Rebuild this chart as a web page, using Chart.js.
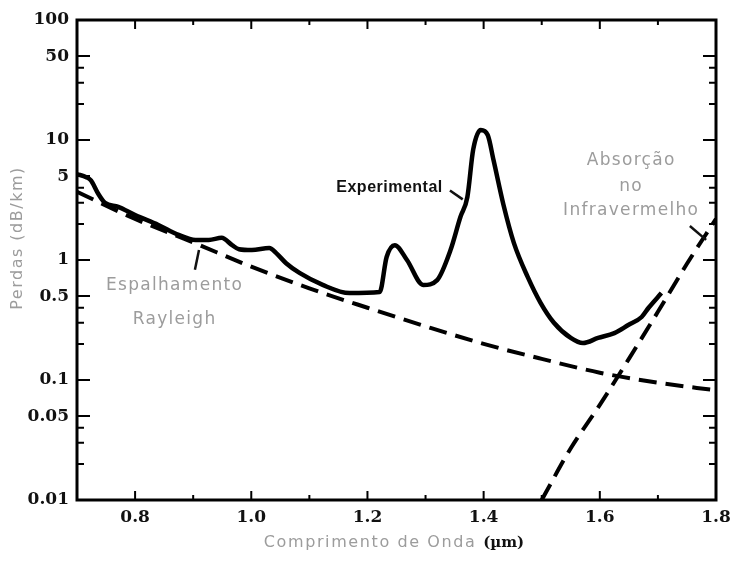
<!DOCTYPE html>
<html>
<head>
<meta charset="utf-8">
<script src="https://cdn.jsdelivr.net/npm/chart.js@4"></script>
<style>
  html, body { margin: 0; padding: 0; background: #fff; }
  #wrap { width: 741px; height: 562px; }
</style>
</head>
<body>
<div id="wrap"><canvas id="lossChart" width="741" height="562"></canvas></div>
<script>
// Perdas na fibra (dB/km) x comprimento de onda (um)
const expWavelength = [0.700, 0.716, 0.724, 0.736, 0.748, 0.771, 0.800, 0.840, 0.875, 0.904, 0.927, 0.949,
  0.967, 0.979, 1.001, 1.031, 1.043, 1.060, 1.083, 1.123, 1.169, 1.221, 1.233, 1.247, 1.268, 1.296, 1.320,
  1.343, 1.360, 1.372, 1.382, 1.395, 1.407, 1.417, 1.434, 1.452, 1.476, 1.498, 1.521, 1.550, 1.571, 1.597,
  1.625, 1.649, 1.672, 1.684, 1.706];
const expLoss = [5.2, 4.9, 4.6, 3.6, 3.0, 2.77, 2.37, 1.96, 1.62, 1.47, 1.47, 1.53,
  1.33, 1.23, 1.21, 1.26, 1.14, 0.94, 0.78, 0.62, 0.53, 0.54, 1.06, 1.33, 1.0, 0.62, 0.68,
  1.21, 2.28, 3.35, 8.3, 12.1, 11.0, 6.8, 2.9, 1.39, 0.72, 0.44, 0.30, 0.224, 0.203, 0.224,
  0.246, 0.287, 0.335, 0.40, 0.53];

const rayleighWavelength = [0.7, 0.8, 0.9, 1.0, 1.1, 1.2, 1.3, 1.4, 1.5, 1.6, 1.7, 1.8];
const rayleighLoss = [3.7, 2.2, 1.4, 0.88, 0.58, 0.40, 0.28, 0.20, 0.15, 0.115, 0.095, 0.082];

const irWavelength = [1.5, 1.55, 1.6, 1.65, 1.7, 1.75, 1.8];
const irLoss = [0.01, 0.027, 0.062, 0.15, 0.37, 0.93, 2.2];

const yTickValues = [0.01, 0.02, 0.03, 0.04, 0.05, 0.1, 0.2, 0.3, 0.4, 0.5, 1, 2, 3, 4, 5, 10, 20, 30, 40, 50, 100];
const yTickLabels = ['0.01', '', '', '', '0.05', '0.1', '', '', '', '0.5', '1', '', '', '', '5', '10', '', '', '', '50', '100'];
const xTickValues = [0.7, 0.8, 0.9, 1.0, 1.1, 1.2, 1.3, 1.4, 1.5, 1.6, 1.7, 1.8];
const xTickLabels = ['', '0.8', '', '1.0', '', '1.2', '', '1.4', '', '1.6', '', '1.8'];

const toPoints = (xs, ys) => xs.map((x, i) => ({ x: x, y: ys[i] }));

const tickFont = { family: 'DejaVu Serif', weight: 'bold', size: 17 };
const grayText = '#9c9c9c';

// inward tick marks on all four sides + frame
const frameTicks = {
  id: 'frameTicks',
  afterDraw(chart) {
    const { ctx, chartArea: a, scales: { x, y } } = chart;
    ctx.save();
    ctx.strokeStyle = '#000';
    ctx.lineWidth = 2;
    ctx.beginPath();
    x.ticks.forEach((t) => {
      const px = x.getPixelForValue(t.value);
      const len = t.label ? 9 : 5;
      ctx.moveTo(px, a.bottom); ctx.lineTo(px, a.bottom - len);
      ctx.moveTo(px, a.top); ctx.lineTo(px, a.top + len);
    });
    y.ticks.forEach((t) => {
      const py = y.getPixelForValue(t.value);
      const len = t.label ? 13 : 7;
      ctx.moveTo(a.left, py); ctx.lineTo(a.left + len, py);
      ctx.moveTo(a.right, py); ctx.lineTo(a.right - len, py);
    });
    ctx.stroke();
    ctx.lineWidth = 3;
    ctx.strokeRect(a.left, a.top, a.right - a.left, a.bottom - a.top);
    ctx.restore();
  }
};

// labels and pointers written inside the plot
const notes = {
  id: 'notes',
  afterDraw(chart) {
    const { ctx, scales: { x, y } } = chart;
    const at = (wx, wy) => [x.getPixelForValue(wx), y.getPixelForValue(wy)];
    ctx.save();
    ctx.textAlign = 'center';
    ctx.textBaseline = 'middle';

    ctx.fillStyle = '#111';
    ctx.font = 'bold 16px "Liberation Sans"';
    ctx.letterSpacing = '0.5px';
    let p = at(1.238, 4.0);
    ctx.fillText('Experimental', p[0], p[1]);

    ctx.fillStyle = grayText;
    ctx.font = '17px "DejaVu Sans"';
    ctx.letterSpacing = '1.3px';
    p = at(0.868, 0.61);
    ctx.fillText('Espalhamento', p[0], p[1]);
    p = at(0.868, 0.32);
    ctx.fillText('Rayleigh', p[0], p[1]);
    p = at(1.654, 6.8);
    ctx.fillText('Absorção', p[0], p[1]);
    p = at(1.654, 4.1);
    ctx.fillText('no', p[0], p[1]);
    p = at(1.654, 2.56);
    ctx.fillText('Infravermelho', p[0], p[1]);
    ctx.letterSpacing = '0px';

    // pointers
    ctx.strokeStyle = '#111';
    ctx.lineWidth = 2.5;
    const seg = (x1, y1, x2, y2) => {
      const s = at(x1, y1), e = at(x2, y2);
      ctx.beginPath(); ctx.moveTo(s[0], s[1]); ctx.lineTo(e[0], e[1]); ctx.stroke();
    };
    seg(1.342, 3.8, 1.364, 3.2);
    seg(0.91, 1.21, 0.903, 0.83);
    seg(1.755, 1.92, 1.783, 1.47);

    // axis titles
    ctx.fillStyle = grayText;
    ctx.font = '16px "DejaVu Sans"';
    ctx.letterSpacing = '1.5px';
    ctx.translate(18, 238);
    ctx.rotate(-Math.PI / 2);
    ctx.fillText('Perdas (dB/km)', 0, 0);
    ctx.setTransform(1, 0, 0, 1, 0, 0);

    const part1 = 'Comprimento de Onda ';
    const part2 = '(\u00b5m)';
    ctx.font = '16px "DejaVu Sans"';
    ctx.letterSpacing = '1.6px';
    const w1 = ctx.measureText(part1).width;
    ctx.font = 'bold 15px "DejaVu Serif"';
    ctx.letterSpacing = '0px';
    const w2 = ctx.measureText(part2).width;
    const left = 394 - (w1 + w2) / 2;
    ctx.textAlign = 'left';
    ctx.font = '16px "DejaVu Sans"';
    ctx.letterSpacing = '1.6px';
    ctx.fillStyle = grayText;
    ctx.fillText(part1, left, 543);
    ctx.font = 'bold 15px "DejaVu Serif"';
    ctx.letterSpacing = '0px';
    ctx.fillStyle = '#111';
    ctx.fillText(part2, left + w1, 543);
    ctx.restore();
  }
};

const ctx = document.getElementById('lossChart').getContext('2d');
new Chart(ctx, {
  type: 'scatter',
  data: {
    datasets: [
      {
        label: 'Experimental',
        data: toPoints(expWavelength, expLoss),
        showLine: true,
        borderColor: '#000',
        borderWidth: 4.5,
        pointRadius: 0,
        cubicInterpolationMode: 'monotone'
      },
      {
        label: 'Espalhamento Rayleigh',
        data: toPoints(rayleighWavelength, rayleighLoss),
        showLine: true,
        borderColor: '#000',
        borderWidth: 4,
        borderDash: [18, 9],
        pointRadius: 0,
        cubicInterpolationMode: 'monotone'
      },
      {
        label: 'Absorção no Infravermelho',
        data: toPoints(irWavelength, irLoss),
        showLine: true,
        borderColor: '#000',
        borderWidth: 4,
        borderDash: [18, 9],
        pointRadius: 0,
        cubicInterpolationMode: 'monotone'
      }
    ]
  },
  options: {
    responsive: false,
    animation: false,
    layout: { padding: { top: 20, right: 25, left: 0, bottom: 0 } },
    plugins: { legend: { display: false }, tooltip: { enabled: false } },
    scales: {
      x: {
        type: 'linear',
        min: 0.7,
        max: 1.8,
        afterBuildTicks: (scale) => { scale.ticks = xTickValues.map((v) => ({ value: v })); },
        afterFit: (scale) => { scale.height = 62; },
        grid: { display: false, drawTicks: false },
        border: { display: false },
        ticks: {
          color: '#111',
          font: tickFont,
          padding: 7,
          maxRotation: 0,
          autoSkip: false,
          callback: (v, i) => xTickLabels[i]
        }
      },
      y: {
        type: 'logarithmic',
        min: 0.01,
        max: 100,
        afterBuildTicks: (scale) => { scale.ticks = yTickValues.map((v) => ({ value: v })); },
        afterFit: (scale) => { scale.width = 77; },
        grid: { display: false, drawTicks: false },
        border: { display: false },
        ticks: {
          color: '#111',
          font: tickFont,
          padding: 8,
          autoSkip: false,
          callback: (v, i) => yTickLabels[i]
        }
      }
    }
  },
  plugins: [frameTicks, notes]
});
</script>
</body>
</html>
